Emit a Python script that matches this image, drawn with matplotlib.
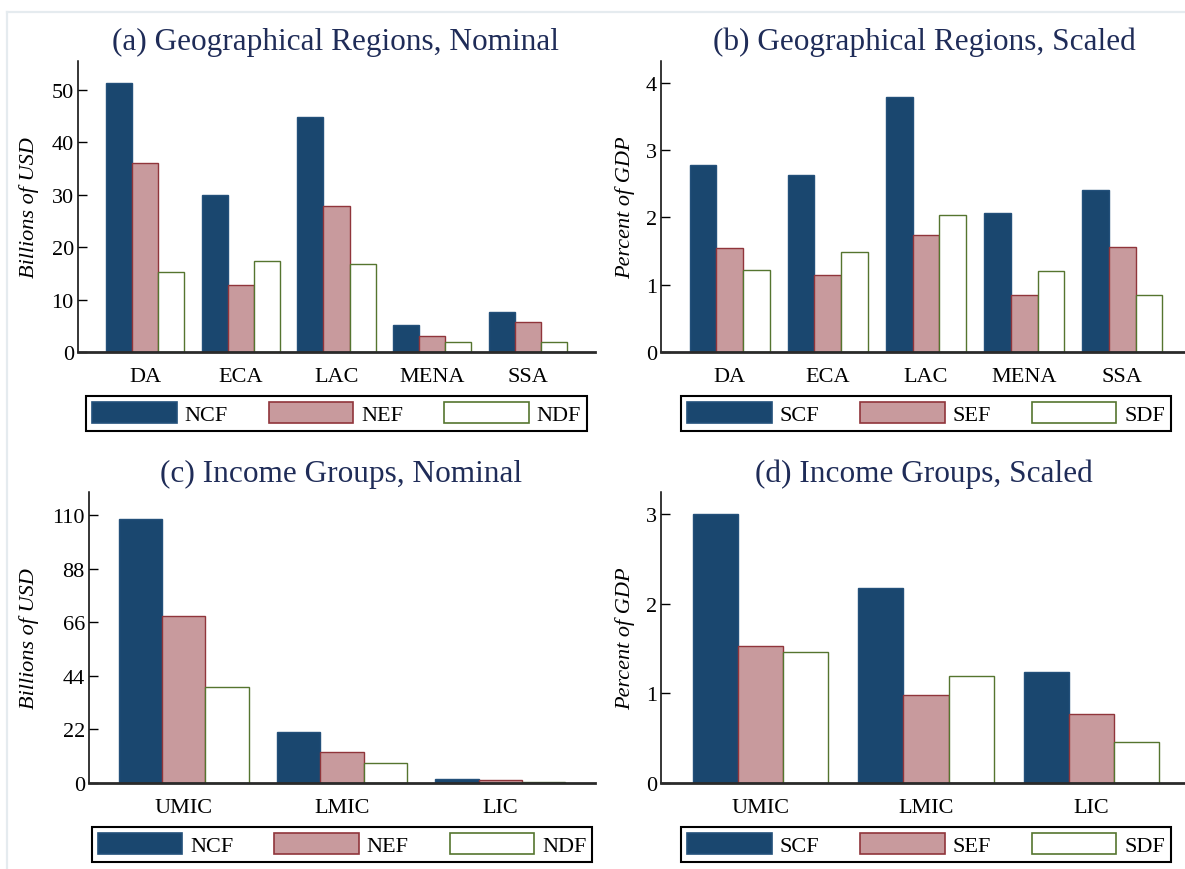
import numpy as np
import matplotlib
matplotlib.use("Agg")
import matplotlib.pyplot as plt
from matplotlib.lines import Line2D
from matplotlib.patches import Patch

# ---- data -------------------------------------------------------------
regions = ["DA", "ECA", "LAC", "MENA", "SSA"]
ncf_region = [51.3, 30.0, 44.8, 5.1, 7.6]
nef_region = [36.0, 12.8, 27.9, 3.1, 5.8]
ndf_region = [15.2, 17.3, 16.8, 2.0, 1.9]

scf_region = [2.77, 2.63, 3.78, 2.06, 2.41]
sef_region = [1.55, 1.14, 1.73, 0.85, 1.56]
sdf_region = [1.21, 1.48, 2.03, 1.20, 0.84]

income_groups = ["UMIC", "LMIC", "LIC"]
ncf_income = [108.4, 21.1, 1.5]
nef_income = [68.7, 12.6, 1.1]
ndf_income = [39.5, 8.2, 0.3]

scf_income = [3.00, 2.18, 1.24]
sef_income = [1.53, 0.98, 0.77]
sdf_income = [1.46, 1.20, 0.46]

nominal_labels = ["NCF", "NEF", "NDF"]
scaled_labels = ["SCF", "SEF", "SDF"]

# ---- style ------------------------------------------------------------
W, H = 1185, 870
plt.rcParams["font.family"] = ["Liberation Serif", "DejaVu Serif"]
TITLE_COLOR = "#1f2c58"
NAVY = "#1a476f"
MAROON = "#90353b"
MAROON_FILL = "#c89a9d"
GREEN = "#55752f"

fills = [NAVY, MAROON_FILL, "white"]
edges = ["#23507a", MAROON, GREEN]

fig = plt.figure(figsize=(W / 100, H / 100), dpi=100)
fig.patch.set_facecolor("white")

# light outline of the graph region
fig.add_artist(Line2D([7 / W, 1.0], [1 - 13 / H] * 2, transform=fig.transFigure,
                      color="#e5ebef", lw=1.6))
fig.add_artist(Line2D([7 / W] * 2, [0.0, 1 - 13 / H], transform=fig.transFigure,
                      color="#e5ebef", lw=1.6))


def add_axes_px(left, top, right, bottom):
    return fig.add_axes([left / W, 1 - bottom / H, (right - left) / W, (bottom - top) / H])


def panel(box, cats, series, labels, ylim, yticks, ylabel, title, title_xy, ylabel_x,
          xpad):
    left, top, right, bottom = box
    ax = add_axes_px(left, top, right, bottom)
    n = len(cats)
    x = np.arange(n)
    w = 0.273
    for i, vals in enumerate(series):
        ax.bar(x + (i - 1) * w, vals, width=w, color=fills[i], edgecolor=edges[i],
               linewidth=1.0, label=labels[i], zorder=2)
    ax.set_xlim(-xpad, n - 1 + xpad)
    ax.set_ylim(*ylim)
    ax.set_yticks(yticks)
    ax.set_yticklabels([str(t) for t in yticks])
    ax.set_xticks(x)
    ax.set_xticklabels(cats)
    for s in ("top", "right"):
        ax.spines[s].set_visible(False)
    ax.spines["left"].set_linewidth(1.1)
    ax.spines["left"].set_color("black")
    ax.spines["bottom"].set_linewidth(2.0)
    ax.spines["bottom"].set_color("#2a2a2a")
    ax.spines["bottom"].set_zorder(3)
    ax.tick_params(axis="y", direction="in", length=6.5, width=1.0, pad=3,
                   labelsize=16, colors="black")
    ax.tick_params(axis="x", length=0, pad=11, labelsize=16)
    ax.set_facecolor("white")

    fig.text(title_xy[0] / W, 1 - title_xy[1] / H, title, ha="center", va="baseline",
             fontsize=22.5, color=TITLE_COLOR)
    fig.text(ylabel_x / W, 1 - (top + bottom) / 2 / H, ylabel, rotation=90,
             ha="center", va="center", fontsize=16, style="italic")

    handles = [Patch(facecolor=fills[i], edgecolor=edges[i], linewidth=1.2)
               for i in range(3)]
    leg = ax.legend(handles, labels, loc="upper center",
                    bbox_to_anchor=(0.5, -(44 / (bottom - top))), ncol=3,
                    fontsize=16, handlelength=3.8, handleheight=1.04,
                    handletextpad=0.35, columnspacing=1.85, borderpad=0.28,
                    frameon=True, fancybox=False, framealpha=1, borderaxespad=0)
    leg.get_frame().set_edgecolor("black")
    leg.get_frame().set_linewidth(1.5)
    return ax


panel((78, 62, 595, 353), regions, [ncf_region, nef_region, ndf_region],
      nominal_labels, (0, 55.5), [0, 10, 20, 30, 40, 50], "Billions of USD",
      "(a) Geographical Regions, Nominal", (336, 50), 29, 0.70)

panel((661, 62, 1191, 353), regions, [scf_region, sef_region, sdf_region],
      scaled_labels, (0, 4.32), [0, 1, 2, 3, 4], "Percent of GDP",
      "(b) Geographical Regions, Scaled", (924, 50), 625, 0.70)

panel((89, 493, 595, 784), income_groups, [ncf_income, nef_income, ndf_income],
      nominal_labels, (0, 119.5), [0, 22, 44, 66, 88, 110], "Billions of USD",
      "(c) Income Groups, Nominal", (341, 482), 29, 0.60)

panel((661, 493, 1191, 784), income_groups, [scf_income, sef_income, sdf_income],
      scaled_labels, (0, 3.25), [0, 1, 2, 3], "Percent of GDP",
      "(d) Income Groups, Scaled", (924, 482), 625, 0.60)

fig.savefig("out.png", dpi=100, facecolor="white")
